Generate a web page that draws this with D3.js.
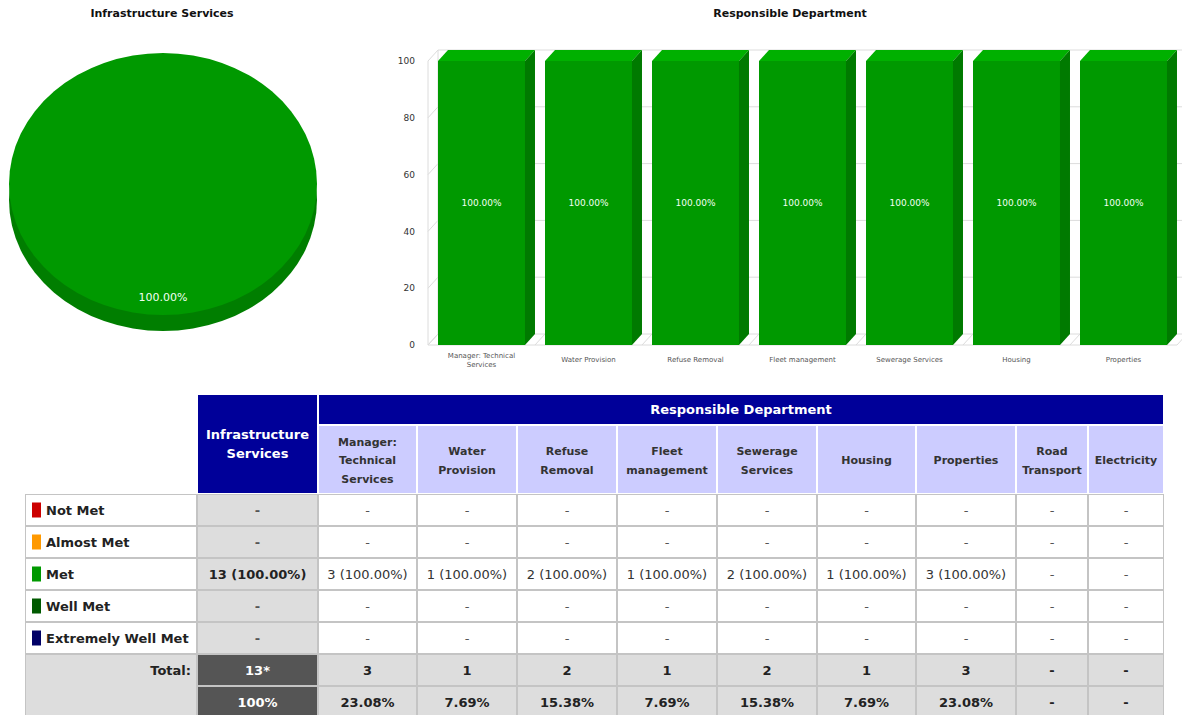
<!DOCTYPE html>
<html>
  <head>
    <meta charset="utf-8">
    <script src="https://d3js.org/d3.v7.min.js"></script>
    <title>Infrastructure Services - Responsible Department</title>
    <style>
      body { margin: 0px; background: #fff; }
      svg { display: block; font-family: "DejaVu Sans", Verdana, sans-serif; }
      .title { font-size: 11px; font-weight: bold; fill: #111; text-anchor: middle; }
      .tick-label { font-size: 9px; fill: #333; text-anchor: end; }
      .cat-label { font-size: 7px; fill: #555; text-anchor: middle; }
      .bar-label { font-size: 9px; fill: #f2fff2; text-anchor: middle; }
      .pie-label { font-size: 11px; fill: #f2fff2; text-anchor: middle; }
      .grid { stroke: #dcdcdc; stroke-width: 1; fill: none; }
      .cell-text { font-size: 13px; text-anchor: middle; }
    </style>
  </head>
  <body>
    <svg width="1182" height="715"></svg>
    <script>
      // ---- data ----
      const pieTitle = 'Infrastructure Services';
      const barTitle = 'Responsible Department';

      const statusLabels = ['Not Met', 'Almost Met', 'Met', 'Well Met', 'Extremely Well Met'];
      const statusColors = ['#cc0000', '#ff9900', '#009900', '#005a00', '#000066'];
      const serviceCounts = [0, 0, 13, 0, 0];   // Infrastructure Services per status

      const departments = ['Manager: Technical Services', 'Water Provision', 'Refuse Removal',
        'Fleet management', 'Sewerage Services', 'Housing', 'Properties', 'Road Transport', 'Electricity'];
      const deptHeaderLines = [['Manager:', 'Technical', 'Services'], ['Water', 'Provision'], ['Refuse', 'Removal'],
        ['Fleet', 'management'], ['Sewerage', 'Services'], ['Housing'], ['Properties'], ['Road', 'Transport'], ['Electricity']];
      const notMet           = [0, 0, 0, 0, 0, 0, 0, 0, 0];
      const almostMet        = [0, 0, 0, 0, 0, 0, 0, 0, 0];
      const met              = [3, 1, 2, 1, 2, 1, 3, 0, 0];
      const wellMet          = [0, 0, 0, 0, 0, 0, 0, 0, 0];
      const extremelyWellMet = [0, 0, 0, 0, 0, 0, 0, 0, 0];

      // bar chart: % met per department (only departments with KPIs)
      const barDepartments = departments.slice(0, 7);
      const barValues = [100, 100, 100, 100, 100, 100, 100];
      const yTicks = [0, 20, 40, 60, 80, 100];

      const svg = d3.select('svg');

      // ---- pie chart (3D look) ----
      const pieCx = 163, pieCy = 184, pieR = 154, pieRy = 131, pieDepth = 16;
      svg.append('text').attr('class', 'title').attr('x', 162).attr('y', 17).text(pieTitle);

      const pie = d3.pie().sort(null).value(d => d);
      const slices = pie(serviceCounts).map((s, i) => Object.assign(s, { color: statusColors[i] }))
        .filter(s => s.value > 0);
      const arc = d3.arc().innerRadius(0).outerRadius(pieR);
      const labelArc = d3.arc().innerRadius(pieR * 0.86).outerRadius(pieR * 0.86);
      const squash = pieRy / pieR;

      const pieSide = svg.append('g')
        .attr('transform', `translate(${pieCx}, ${pieCy + pieDepth}) scale(1, ${squash})`);
      pieSide.selectAll('path').data(slices).enter().append('path')
        .attr('d', arc)
        .attr('fill', d => d3.color(d.color).darker(0.55));
      const pieTop = svg.append('g')
        .attr('transform', `translate(${pieCx}, ${pieCy}) scale(1, ${squash})`);
      pieTop.selectAll('path').data(slices).enter().append('path')
        .attr('d', arc)
        .attr('fill', d => d.color);
      svg.selectAll('.pie-label').data(slices).enter().append('text')
        .attr('class', 'pie-label')
        .attr('x', d => pieCx + labelArc.centroid(d)[0])
        .attr('y', d => pieCy + labelArc.centroid(d)[1] * squash + 4)
        .text(d => (d.value / d3.sum(serviceCounts) * 100).toFixed(2) + '%');

      // ---- 3D bar chart ----
      svg.append('text').attr('class', 'title').attr('x', 790).attr('y', 17).text(barTitle);
      const dx = 10, dy = 11;
      const x = d3.scaleBand().domain(barDepartments)
        .range([428, 1177]).paddingInner(0.187).paddingOuter(0.0935);
      const y = d3.scaleLinear().domain([0, 100]).range([345, 61]);
      const x0 = x.range()[0], x1 = x.range()[1];

      const grid = svg.append('g');
      // back wall grid lines + left wall diagonals
      yTicks.forEach(t => {
        grid.append('line').attr('class', 'grid')
          .attr('x1', x0 + dx).attr('x2', 1190).attr('y1', y(t) - dy).attr('y2', y(t) - dy);
        grid.append('line').attr('class', 'grid')
          .attr('x1', x0).attr('x2', x0 + dx).attr('y1', y(t)).attr('y2', y(t) - dy);
      });
      grid.append('line').attr('class', 'grid').attr('stroke', '#ccc')
        .attr('x1', x0).attr('x2', x0).attr('y1', y(0)).attr('y2', y(100));
      grid.append('line').attr('class', 'grid')
        .attr('x1', x0 + dx).attr('x2', x0 + dx).attr('y1', y(0) - dy).attr('y2', y(100) - dy);
      // floor
      grid.append('line').attr('class', 'grid')
        .attr('x1', x0).attr('x2', x1).attr('y1', y(0)).attr('y2', y(0));
      d3.range(barDepartments.length + 1).forEach(i => {
        const fx = x0 + i * x.step();
        grid.append('line').attr('class', 'grid')
          .attr('x1', fx).attr('x2', fx + dx).attr('y1', y(0)).attr('y2', y(0) - dy);
      });

      svg.append('g').selectAll('text').data(yTicks).enter().append('text')
        .attr('class', 'tick-label')
        .attr('x', 415).attr('y', d => y(d)).attr('dy', '0.35em')
        .text(d => d);

      const barData = barDepartments.map((d, i) => ({ name: d, value: barValues[i] }));
      const bars = svg.append('g').selectAll('g').data(barData).enter().append('g');
      bars.append('rect')
        .attr('x', d => x(d.name)).attr('y', d => y(d.value))
        .attr('width', x.bandwidth()).attr('height', d => y(0) - y(d.value))
        .attr('fill', '#009900');
      bars.append('path')
        .attr('fill', '#00b000')
        .attr('d', d => {
          const a = x(d.name), b = a + x.bandwidth(), v = y(d.value);
          return `M${a},${v}L${a + dx},${v - dy}L${b + dx},${v - dy}L${b},${v}Z`;
        });
      bars.append('path')
        .attr('fill', '#007a00')
        .attr('d', d => {
          const b = x(d.name) + x.bandwidth(), v = y(d.value);
          return `M${b},${v}L${b + dx},${v - dy}L${b + dx},${y(0) - dy}L${b},${y(0)}Z`;
        });
      bars.append('text')
        .attr('class', 'bar-label')
        .attr('x', d => x(d.name) + x.bandwidth() / 2)
        .attr('y', d => (y(d.value) + y(0)) / 2).attr('dy', '0.35em')
        .text(d => d.value.toFixed(2) + '%');

      // category labels, wrapped to the bar width
      const catG = svg.append('g');
      barDepartments.forEach(name => {
        const t = catG.append('text').attr('class', 'cat-label')
          .attr('x', x(name) + x.bandwidth() / 2);
        const words = name.split(' ');
        let lines = [[]];
        words.forEach(w => {
          const cur = lines[lines.length - 1];
          t.text(cur.concat(w).join(' '));
          if (cur.length && t.node().getComputedTextLength() > x.bandwidth() - 8) lines.push([w]);
          else cur.push(w);
        });
        t.text(null);
        lines.forEach((l, i) => {
          t.append('tspan').attr('x', x(name) + x.bandwidth() / 2)
            .attr('y', 362 - (lines.length - 1) * 4.5 + i * 9)
            .text(l.join(' '));
        });
      });

      // ---- table ----
      const colKeys = ['label', 'infra'].concat(departments);
      const colWidths = [172, 121, 99, 100, 100, 100, 100, 99, 100, 72, 76];
      const colEdges = [25];
      colWidths.forEach(w => colEdges.push(colEdges[colEdges.length - 1] + w));
      const colX = d3.scaleOrdinal().domain(colKeys).range(colEdges.slice(0, -1));
      const colW = d3.scaleOrdinal().domain(colKeys).range(colWidths);
      const tableRight = colEdges[colEdges.length - 1];

      const head1 = 394, head2 = 425, bodyTop = 494, rowH = 32;
      const rowKeys = statusLabels.concat(['total', 'pct']);
      const rowY = d3.scaleBand().domain(rowKeys).range([bodyTop, bodyTop + rowKeys.length * rowH]);

      const table = svg.append('g');
      const cell = (cx, cy, w, h, fill) => table.append('rect')
        .attr('x', cx + 1).attr('y', cy + 1).attr('width', w - 2).attr('height', h - 2).attr('fill', fill);
      const label = (tx, ty, str, opts) => table.append('text')
        .attr('class', 'cell-text')
        .attr('x', tx).attr('y', ty).attr('dy', '0.36em')
        .attr('font-weight', opts.bold ? 'bold' : 'normal')
        .attr('fill', opts.fill || '#333')
        .style('font-size', opts.size ? opts.size + 'px' : null)
        .style('text-anchor', opts.anchor || 'middle')
        .text(str);

      // header
      cell(colX('infra'), head1, colW('infra'), bodyTop - head1, '#000099');
      label(colX('infra') + colW('infra') / 2, 434.5, 'Infrastructure', { bold: true, fill: '#fff' });
      label(colX('infra') + colW('infra') / 2, 453.5, 'Services', { bold: true, fill: '#fff' });
      cell(colX(departments[0]), head1, tableRight - colX(departments[0]), head2 - head1, '#000099');
      label((colX(departments[0]) + tableRight) / 2, 409.5, barTitle, { bold: true, fill: '#fff' });
      departments.forEach((d, i) => {
        cell(colX(d), head2, colW(d), bodyTop - head2, '#ccccff');
        const lines = deptHeaderLines[i];
        lines.forEach((l, j) => {
          label(colX(d) + colW(d) / 2, (head2 + bodyTop) / 2 + 1 + (j - (lines.length - 1) / 2) * 18.5, l,
            { bold: true, fill: '#333', size: 11 });
        });
      });

      // body grid background
      table.append('rect').attr('x', colEdges[0]).attr('y', bodyTop)
        .attr('width', tableRight - colEdges[0]).attr('height', rowKeys.length * rowH)
        .attr('fill', '#c4c4c4');

      const statusRows = [notMet, almostMet, met, wellMet, extremelyWellMet];
      const deptTotals = departments.map((d, i) => d3.sum(statusRows, r => r[i]));
      const grandTotal = d3.sum(serviceCounts);
      const fmt = (c, tot) => c > 0 ? `${c} (${(c / tot * 100).toFixed(2)}%)` : '-';

      statusLabels.forEach((s, r) => {
        const ry = rowY(s), mid = ry + rowH / 2;
        cell(colX('label'), ry, colW('label'), rowH, '#fff');
        table.append('rect').attr('x', 32).attr('y', mid - 7.5).attr('width', 9).attr('height', 15)
          .attr('fill', statusColors[r]);
        label(46, mid, s, { bold: true, fill: '#222', anchor: 'start' });
        cell(colX('infra'), ry, colW('infra'), rowH, '#dddddd');
        label(colX('infra') + colW('infra') / 2, mid, fmt(serviceCounts[r], grandTotal),
          { bold: true, fill: serviceCounts[r] ? '#222' : '#555' });
        departments.forEach((d, i) => {
          cell(colX(d), ry, colW(d), rowH, '#fff');
          const c = statusRows[r][i];
          label(colX(d) + colW(d) / 2, mid, fmt(c, deptTotals[i]), { fill: c ? '#333' : '#555' });
        });
      });

      // totals
      const tY = rowY('total'), pY = rowY('pct');
      cell(colX('label'), tY, colW('label'), rowH * 2, '#dddddd');
      label(colX('label') + colW('label') - 6, tY + rowH / 2, 'Total:', { bold: true, fill: '#222', anchor: 'end' });
      cell(colX('infra'), tY, colW('infra'), rowH, '#555555');
      label(colX('infra') + colW('infra') / 2, tY + rowH / 2, grandTotal + '*', { bold: true, fill: '#fff' });
      cell(colX('infra'), pY, colW('infra'), rowH, '#555555');
      label(colX('infra') + colW('infra') / 2, pY + rowH / 2, '100%', { bold: true, fill: '#fff' });
      departments.forEach((d, i) => {
        const n = deptTotals[i];
        cell(colX(d), tY, colW(d), rowH, '#dddddd');
        label(colX(d) + colW(d) / 2, tY + rowH / 2, n ? n : '-', { bold: true, fill: '#222' });
        cell(colX(d), pY, colW(d), rowH, '#dddddd');
        label(colX(d) + colW(d) / 2, pY + rowH / 2, n ? (n / grandTotal * 100).toFixed(2) + '%' : '-',
          { bold: true, fill: '#222' });
      });
    </script>
  </body>
</html>
